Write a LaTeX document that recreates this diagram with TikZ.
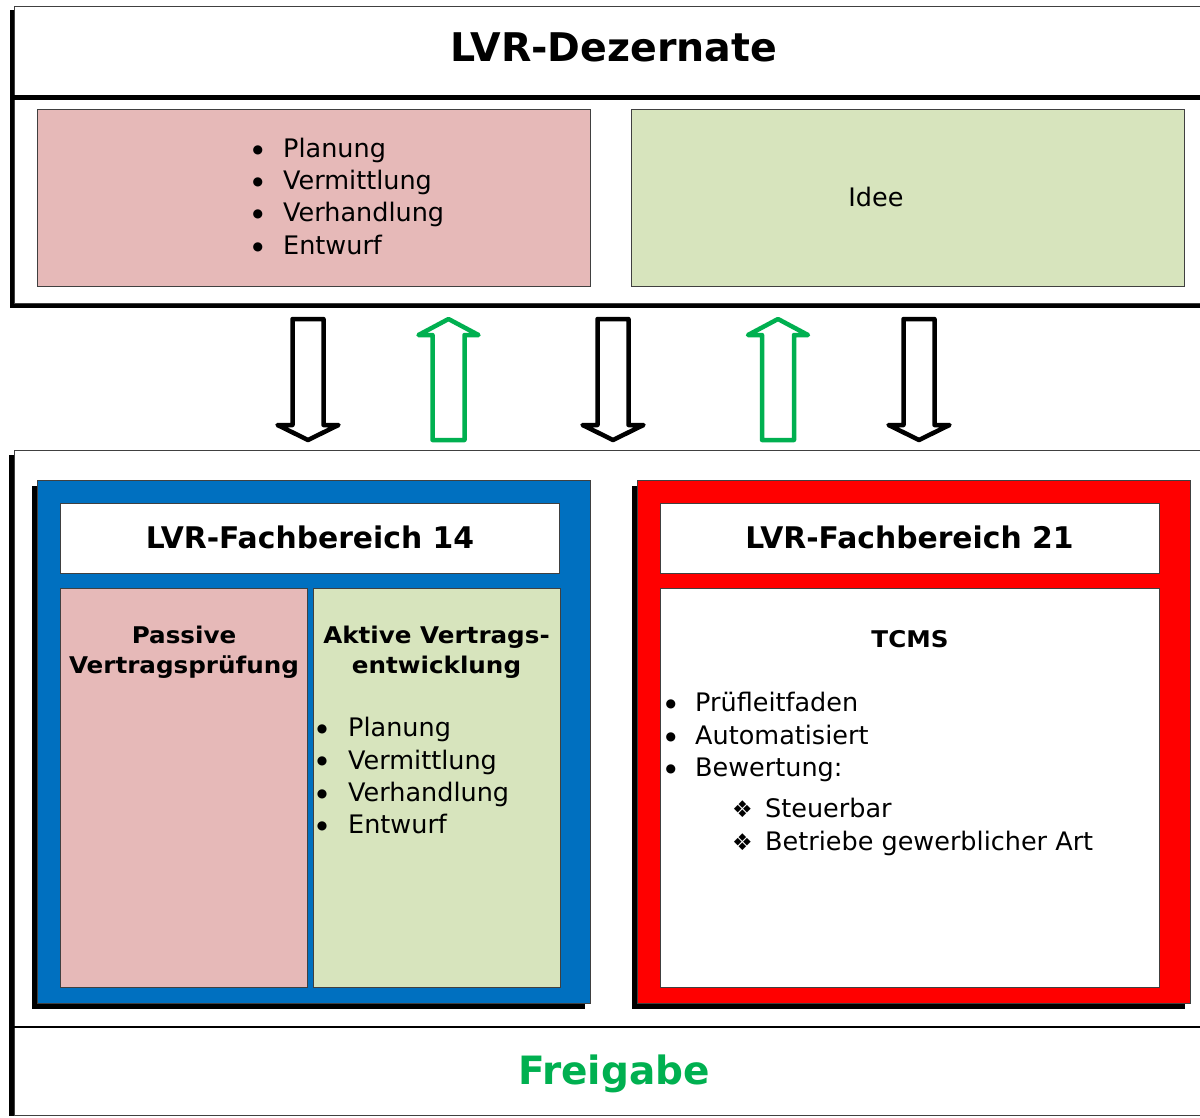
\documentclass[tikz,border=0pt]{standalone}
\usepackage{fontspec}
\setmainfont{DejaVu Sans}
\usepackage{graphicx}
\definecolor{pinkf}{HTML}{E6B9B8}
\definecolor{greenf}{HTML}{D7E4BD}
\definecolor{bluef}{HTML}{0070C0}
\definecolor{redf}{HTML}{FF0000}
\definecolor{grn}{HTML}{00B050}
\definecolor{edge}{HTML}{404040}
\newcommand\blt[1]{\makebox[#1][l]{\raisebox{4.2pt}{\fontsize{12}{12}\selectfont ●}}}
\newcommand\dia[1]{\makebox[#1][l]{\raisebox{-0.5pt}{\fontsize{23}{23}\selectfont ❖}}}
\tikzset{
 box/.style={draw=edge, line width=0.8pt, inner sep=0pt, outer sep=0pt, anchor=north west},
 shadowbox/.style={fill=black, draw=none, inner sep=0pt, outer sep=0pt, anchor=north west},
 item/.style={anchor=base west, inner sep=0pt, font=\fontsize{25.5}{30}\selectfont},
 hdr/.style={anchor=base, inner sep=0pt, font=\fontsize{23}{28}\selectfont\bfseries},
 title/.style={anchor=base, inner sep=0pt, font=\fontsize{29.8}{34}\selectfont\bfseries},
 downarrow/.style={draw=black, line width=4.5pt, line join=round, fill=white},
 uparrow/.style={draw=grn, line width=4.5pt, line join=round, fill=white},
}
\begin{document}
\begin{tikzpicture}[x=1pt,y=-1pt]
\useasboundingbox (0,0) rectangle (1200,1117);
\clip (0,0) rectangle (1200,1117);
\fill[white] (0,0) rectangle (1200,1117);
% ---------- top block
\node[shadowbox, minimum width=1204pt, minimum height=298pt] (topsh) at (10,10) {};
\node[box, fill=white, minimum width=1200pt, minimum height=91pt] (dez) at (14,6) {};
\node[box, fill=white, minimum width=1200pt, minimum height=206pt] (dezbody) at (14,97) {};
\draw[line width=5pt] ([xshift=-4pt]dez.south west) -- (dez.south east);
\node[anchor=base, inner sep=0pt, font=\fontsize{39.5}{46}\selectfont\bfseries] (tdez) at (614,61) {LVR-Dezernate};
\node[box, fill=pinkf, minimum width=553pt, minimum height=177pt] (tpink) at (37,109) {};
\node[box, fill=greenf, minimum width=553pt, minimum height=177pt] (tgreen) at (631,109) {};
\node[item, anchor=base] (idee) at (876,206.5) {Idee};
\foreach \t [count=\i] in {Planung,Vermittlung,Verhandlung,Entwurf}
  \node[item] (pk\i) at (252.5,{157.3+32.3*(\i-1)}) {\blt{30.5pt}\t};
% ---------- arrows
\foreach \cx [count=\i] in {308,613,919}
  \draw[downarrow] (\cx-15.5,319) -- (\cx+15.5,319) -- (\cx+15.5,425) -- (\cx+30.5,425) -- (\cx,440) -- (\cx-30.5,425) -- (\cx-15.5,425) -- cycle;
\foreach \cx [count=\i] in {448.5,778}
  \draw[uparrow] (\cx-16,440) -- (\cx+16,440) -- (\cx+16,335) -- (\cx+30,335) -- (\cx,319) -- (\cx-30,335) -- (\cx-16,335) -- cycle;
% ---------- bottom block
\node[shadowbox, minimum width=1205pt, minimum height=661pt] (botsh) at (9,455) {};
\node[box, fill=white, minimum width=1200pt, minimum height=665pt] (bot) at (14,450) {};
\node[box, fill=white, minimum width=1200pt, minimum height=88pt] (frei) at (14,1027) {};
\draw[line width=2pt] (frei.north west) -- (frei.north east);
\node[anchor=base, inner sep=0pt, text=grn, font=\fontsize{39}{46}\selectfont\bfseries] (tfrei) at (614,1084) {Freigabe};
% FB 14
\node[shadowbox, minimum width=553pt, minimum height=523pt] (bsh) at (32,486) {};
\node[box, fill=bluef, minimum width=553pt, minimum height=523pt] (blue) at (37,480) {};
\node[box, fill=white, minimum width=499pt, minimum height=70pt] (fb14) at (60,503) {};
\node[title] (tfb14) at (310,548.3) {LVR-Fachbereich 14};
\node[box, fill=pinkf, minimum width=247pt, minimum height=399pt] (pass) at (60,588) {};
\node[box, fill=greenf, minimum width=247pt, minimum height=399pt] (akt) at (313,588) {};
\node[hdr] (pass1) at (184,643.3) {\scalebox{1.07}[1]{Passive}};
\node[hdr] (pass2) at (184,673.3) {\scalebox{1.07}[1]{Vertragsprüfung}};
\node[hdr] (akt1) at (436.5,643.3) {\scalebox{1.07}[1]{Aktive Vertrags-}};
\node[hdr] (akt2) at (436.5,673.3) {\scalebox{1.07}[1]{entwicklung}};
\foreach \t [count=\i] in {Planung,Vermittlung,Verhandlung,Entwurf}
  \node[item] (ak\i) at (316.7,{736.7+32.3*(\i-1)}) {\blt{31.3pt}\t};
% FB 21
\node[shadowbox, minimum width=553pt, minimum height=523pt] (rsh) at (632,486) {};
\node[box, fill=redf, minimum width=553pt, minimum height=523pt] (red) at (637,480) {};
\node[box, fill=white, minimum width=499pt, minimum height=70pt] (fb21) at (660,503) {};
\node[title] (tfb21) at (909.5,548.3) {LVR-Fachbereich 21};
\node[box, fill=white, minimum width=499pt, minimum height=399pt] (tcms) at (660,588) {};
\node[hdr] (ttcms) at (910,647.5) {\scalebox{1.07}[1]{TCMS}};
\foreach \t/\y [count=\i] in {Prüfleitfaden/711.7,Automatisiert/744.3,Bewertung:/776.7}
  \node[item] (tc\i) at (665.5,\y) {\blt{29.5pt}\t};
\foreach \t/\y [count=\i] in {Steuerbar/817.3,Betriebe gewerblicher Art/850}
  \node[item] (sub\i) at (732,\y) {\dia{33pt}\t};
\end{tikzpicture}
\end{document}
